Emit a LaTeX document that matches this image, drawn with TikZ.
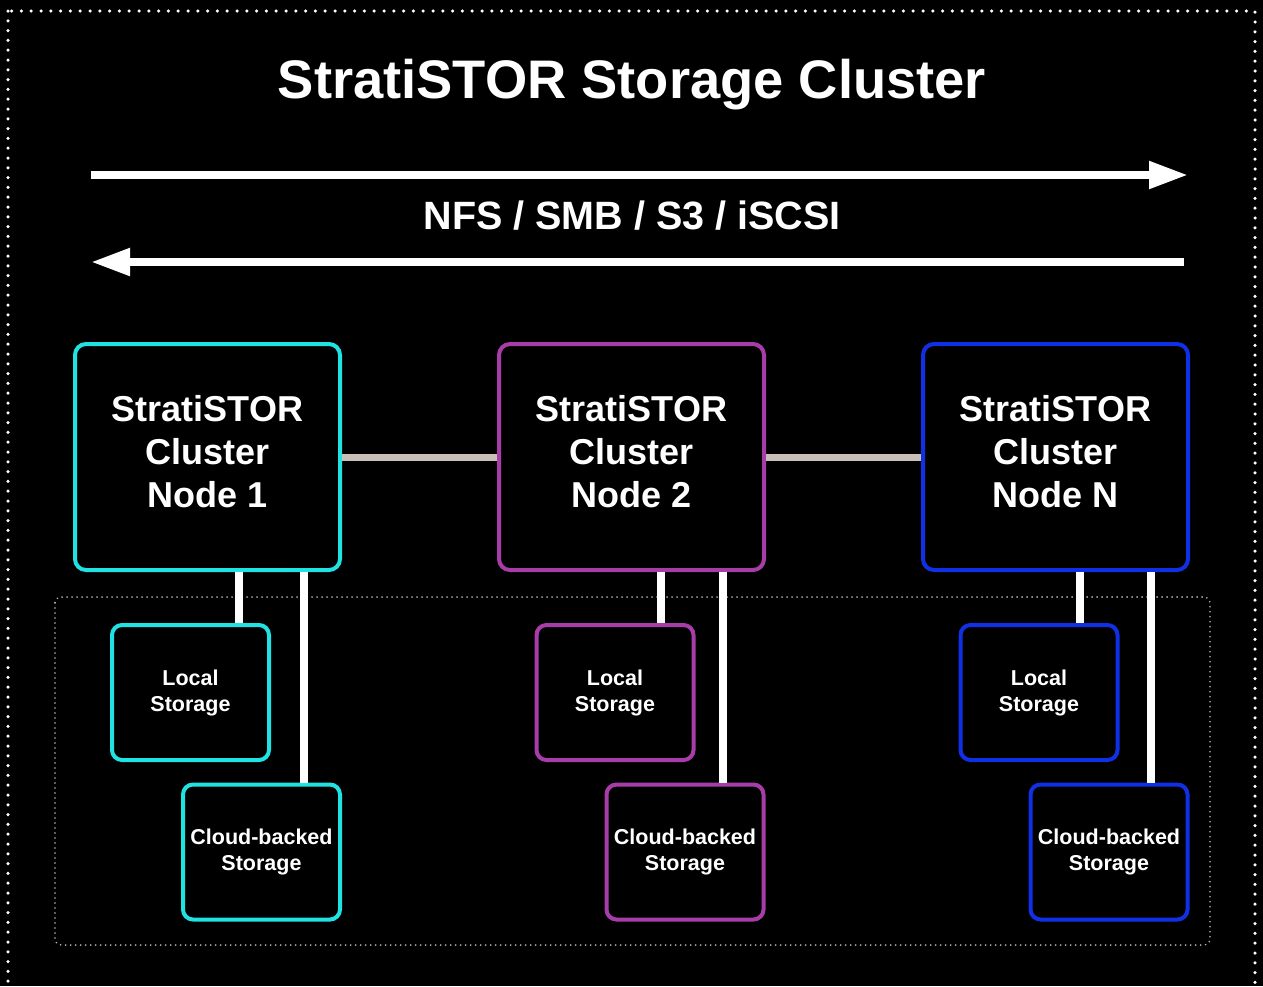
\documentclass[tikz,border=0pt]{standalone}
\usepackage{fontspec}
\setmainfont{Liberation Sans}
\usetikzlibrary{arrows.meta}
\definecolor{ccyan}{HTML}{20E2E2}
\definecolor{cpurple}{HTML}{A83CA8}
\definecolor{cblue}{HTML}{1030E6}
\definecolor{cgray}{HTML}{C8C0B8}
\definecolor{cdots}{HTML}{BDB5AD}
\tikzset{
  bignode/.style={draw=#1, line width=4pt, rounded corners=11pt, fill=black,
    minimum width=265pt, minimum height=226pt, inner sep=0pt},
  bigtext/.style={text=white, align=center, yshift=5pt,
    font=\fontsize{36}{43}\selectfont\bfseries},
  stor/.style={draw=#1, line width=4pt, rounded corners=10pt, fill=black, text=white,
    minimum width=157pt, minimum height=135pt, inner sep=0pt, align=center,
    font=\fontsize{21.5}{26}\selectfont\bfseries},
  hwire/.style={draw=cgray, line width=7pt},
  vwire/.style={draw=white, line width=8pt},
  bigarrow/.style={draw=white, line width=8pt, -{Triangle[length=39pt,width=26pt]}},
  titletext/.style={text=white, font=\fontsize{54.3}{60}\selectfont\bfseries},
  prototext/.style={text=white, font=\fontsize{39.5}{44}\selectfont\bfseries},
}
\begin{document}
\begin{tikzpicture}[x=1pt,y=-1pt]
\fill[black] (0,0) rectangle (1263,986);
\useasboundingbox (0,0) rectangle (1263,986);
\clip (0,0) rectangle (1263,986);
% outer dotted frame
\draw[white, line width=3.5pt, line cap=round, dash pattern=on 0pt off 9.8pt] (8,11) rectangle (1255,1010);
% inner dotted frame
\draw[cdots, line width=1.8pt, line cap=round, dash pattern=on 0pt off 5pt, rounded corners=6pt] (55,597) rectangle (1210,945);
% title
\node[titletext] (title) at (632,85) {StratiSTOR Storage Cluster};
% protocol arrows
\coordinate (a1s) at (91,175);
\coordinate (a1e) at (1188,175);
\coordinate (a2s) at (1184,262);
\coordinate (a2e) at (91,262);
\draw[bigarrow] (a1s) -- (a1e);
\draw[bigarrow] (a2s) -- (a2e);
\node[prototext] (proto) at (632,216) {NFS / SMB / S3 / iSCSI};
% cluster nodes
\node[bignode=ccyan, label={[bigtext]center:StratiSTOR\\Cluster\\Node 1}] (n1) at (207.5,457) {};
\node[bignode=cpurple, label={[bigtext]center:StratiSTOR\\Cluster\\Node 2}] (n2) at (631.5,457) {};
\node[bignode=cblue, label={[bigtext]center:StratiSTOR\\Cluster\\Node N}] (n3) at (1055.5,457) {};
% storage
\node[stor=ccyan] (l1) at (190.5,692.5) {Local\\Storage};
\node[stor=ccyan] (c1) at (261.5,852) {Cloud-backed\\Storage};
\node[stor=cpurple] (l2) at (615,692.5) {Local\\Storage};
\node[stor=cpurple] (c2) at (685,852) {Cloud-backed\\Storage};
\node[stor=cblue] (l3) at (1039,692.5) {Local\\Storage};
\node[stor=cblue] (c3) at (1109,852) {Cloud-backed\\Storage};
% x positions of vertical links
\coordinate (x1l) at (239,0);
\coordinate (x1c) at (304,0);
\coordinate (x2l) at (661,0);
\coordinate (x2c) at (723,0);
\coordinate (x3l) at (1080,0);
\coordinate (x3c) at (1151,0);
% connectors
\draw[hwire] (n1.east) -- (n2.west);
\draw[hwire] (n2.east) -- (n3.west);
\draw[vwire] (n1.south -| x1l) -- (l1.north -| x1l);
\draw[vwire] (n1.south -| x1c) -- (c1.north -| x1c);
\draw[vwire] (n2.south -| x2l) -- (l2.north -| x2l);
\draw[vwire] (n2.south -| x2c) -- (c2.north -| x2c);
\draw[vwire] (n3.south -| x3l) -- (l3.north -| x3l);
\draw[vwire] (n3.south -| x3c) -- (c3.north -| x3c);
\end{tikzpicture}
\end{document}
